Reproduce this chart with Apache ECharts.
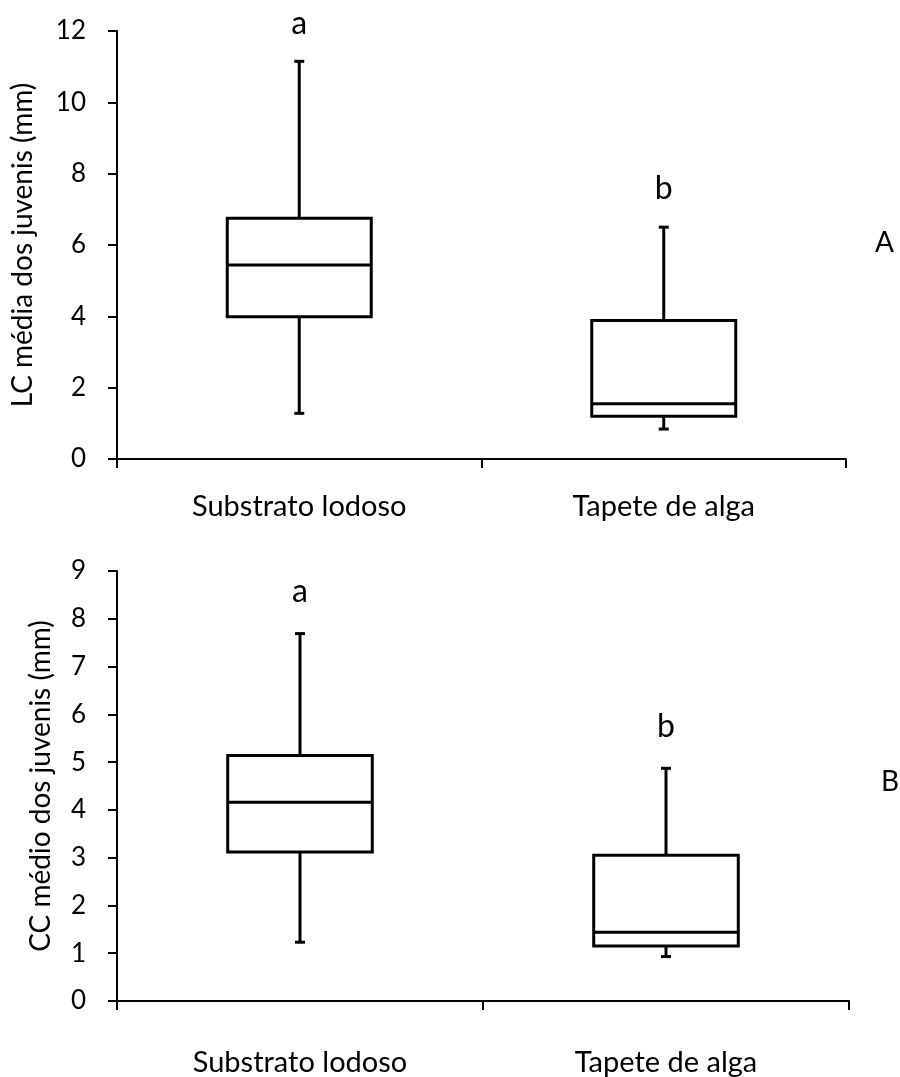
<!DOCTYPE html>
<html>
<head>
<meta charset="utf-8">
<title>Tamanho dos juvenis por substrato</title>
<script src="https://cdn.jsdelivr.net/npm/echarts@6/dist/echarts.min.js"></script>
<style>
  html, body { margin: 0; padding: 0; background: #ffffff; }
  #chart { width: 900px; height: 1077px; }
</style>
</head>
<body>
<div id="chart"></div>
<script>
// Categorias de substrato
const categories = ['Substrato lodoso', 'Tapete de alga'];

// Painel A: LC média dos juvenis (mm) -> [mín, Q1, mediana, Q3, máx]
const lcSubstratoLodoso = [1.28, 3.99, 5.44, 6.75, 11.15];
const lcTapeteDeAlga    = [0.84, 1.20, 1.55, 3.88, 6.50];

// Painel B: CC médio dos juvenis (mm) -> [mín, Q1, mediana, Q3, máx]
const ccSubstratoLodoso = [1.23, 3.12, 4.16, 5.14, 7.69];
const ccTapeteDeAlga    = [0.93, 1.15, 1.44, 3.05, 4.87];

// Letras de significância sobre cada caixa
const sigLetters = ['a', 'b'];

// Rótulos dos painéis
const panelLabels = ['A', 'B'];

const FONT = 'Lato, "Open Sans", sans-serif';

// Caixa com bigodes desenhada através das escalas dos eixos
function boxRenderer(letterGap) {
  return function (params, api) {
    const idx = api.value(0);
    const vMin = api.value(1), q1 = api.value(2), med = api.value(3),
          q3 = api.value(4), vMax = api.value(5);
    const pMin = api.coord([idx, vMin]);
    const pQ1 = api.coord([idx, q1]);
    const pMed = api.coord([idx, med]);
    const pQ3 = api.coord([idx, q3]);
    const pMax = api.coord([idx, vMax]);
    const cx = pMed[0];
    const bw = api.size([1, 0])[0] * 0.395;
    const capW = 10;
    const stroke = { stroke: '#000', lineWidth: 3, fill: null };
    const line = (x1, y1, x2, y2) => ({
      type: 'line', shape: { x1, y1, x2, y2 }, style: stroke
    });
    return {
      type: 'group',
      children: [
        line(cx, pMax[1], cx, pQ3[1]),
        line(cx, pQ1[1], cx, pMin[1]),
        line(cx - capW / 2, pMax[1], cx + capW / 2, pMax[1]),
        line(cx - capW / 2, pMin[1], cx + capW / 2, pMin[1]),
        {
          type: 'rect',
          shape: { x: cx - bw / 2, y: pQ3[1], width: bw, height: pQ1[1] - pQ3[1] },
          style: { fill: '#fff', stroke: '#000', lineWidth: 3 }
        },
        line(cx - bw / 2, pMed[1], cx + bw / 2, pMed[1]),
        {
          type: 'text',
          style: {
            text: sigLetters[params.dataIndex],
            x: cx, y: pMax[1] - letterGap,
            align: 'center', verticalAlign: 'bottom',
            font: '32px ' + FONT, fill: '#000'
          }
        }
      ]
    };
  };
}

function toRows(a, b) {
  return [[0].concat(a), [1].concat(b)];
}

const axisLineStyle = { lineStyle: { color: '#000', width: 2 } };

const chart = echarts.init(document.getElementById('chart'), null, { renderer: 'canvas' });

chart.setOption({
  backgroundColor: '#ffffff',
  animation: false,
  grid: [
    { left: 117, right: 54, top: 31, bottom: 618 },
    { left: 117, right: 51, top: 571, bottom: 76 }
  ],
  xAxis: [0, 1].map(i => ({
    type: 'category',
    gridIndex: i,
    data: categories,
    boundaryGap: true,
    axisLine: axisLineStyle,
    axisTick: { show: true, length: 9, lineStyle: { color: '#000', width: 2 } },
    axisLabel: {
      color: '#000', fontFamily: FONT, fontSize: 29,
      margin: i === 0 ? 33 : 47
    },
    splitLine: { show: false }
  })),
  yAxis: [
    {
      type: 'value', gridIndex: 0, min: 0, max: 12, interval: 2,
      name: 'LC média dos juvenis (mm)', nameLocation: 'middle', nameGap: 80,
      nameTextStyle: { color: '#000', fontFamily: FONT, fontSize: 28 },
      axisLine: { show: true, ...axisLineStyle },
      axisTick: { show: true, length: 9, lineStyle: { color: '#000', width: 2 } },
      axisLabel: { color: '#000', fontFamily: FONT, fontSize: 26, margin: 31 },
      splitLine: { show: false }
    },
    {
      type: 'value', gridIndex: 1, min: 0, max: 9, interval: 1,
      name: 'CC médio dos juvenis (mm)', nameLocation: 'middle', nameGap: 62,
      nameTextStyle: { color: '#000', fontFamily: FONT, fontSize: 28 },
      axisLine: { show: true, ...axisLineStyle },
      axisTick: { show: true, length: 9, lineStyle: { color: '#000', width: 2 } },
      axisLabel: { color: '#000', fontFamily: FONT, fontSize: 26, margin: 31 },
      splitLine: { show: false }
    }
  ],
  series: [
    {
      type: 'custom', xAxisIndex: 0, yAxisIndex: 0,
      renderItem: boxRenderer(22),
      encode: { x: 0, y: [1, 2, 3, 4, 5] },
      data: toRows(lcSubstratoLodoso, lcTapeteDeAlga)
    },
    {
      type: 'custom', xAxisIndex: 1, yAxisIndex: 1,
      renderItem: boxRenderer(26),
      encode: { x: 0, y: [1, 2, 3, 4, 5] },
      data: toRows(ccSubstratoLodoso, ccTapeteDeAlga)
    }
  ],
  graphic: [
    {
      type: 'text', left: 875, top: 229,
      style: { text: panelLabels[0], font: '28px ' + FONT, fill: '#000' }
    },
    {
      type: 'text', left: 881, top: 768,
      style: { text: panelLabels[1], font: '28px ' + FONT, fill: '#000' }
    }
  ]
});
</script>
</body>
</html>
